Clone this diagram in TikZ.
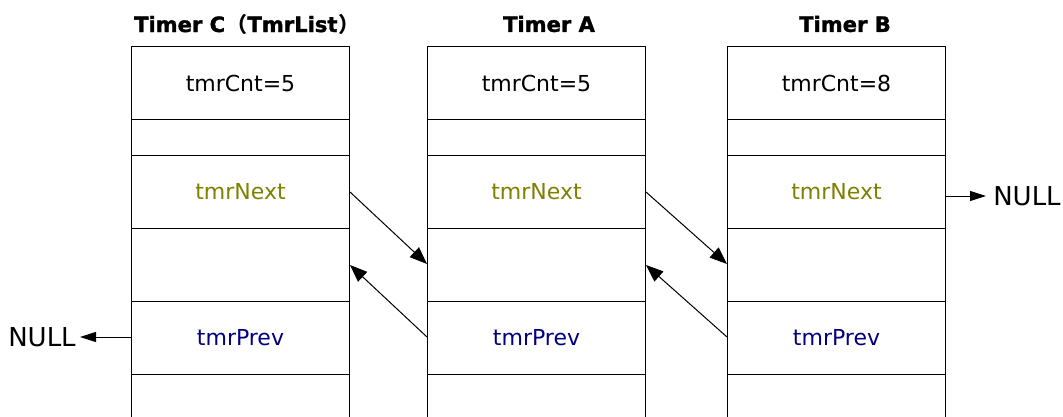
\documentclass[tikz,border=0pt]{standalone}
\usepackage{fontspec}
\setmainfont{DejaVu Sans}
\newfontfamily\cjk{Noto Sans CJK SC}
\newfontfamily\heavy[FakeBold=1.5]{DejaVu Sans Bold}
\usetikzlibrary{arrows.meta}
\definecolor{nextc}{RGB}{128,128,0}
\definecolor{prevc}{RGB}{0,0,128}
\tikzset{
  cell/.style={draw=black, line width=0.75pt, minimum width=218*0.75pt, inner sep=0pt, anchor=north west, font=\fontsize{16.5}{18}\selectfont},
  title/.style={font=\heavy\fontsize{15.8}{18}\selectfont},
  link/.style={line width=0.75pt, -{Triangle[length=13pt,width=10pt]}},
  nulllink/.style={line width=0.75pt, -{Triangle[length=12pt,width=7.5pt]}},
  nulltxt/.style={font=\fontsize{19.5}{22}\selectfont, inner sep=0pt},
}
\begin{document}
\begin{tikzpicture}[x=0.75pt,y=-0.75pt]
\useasboundingbox (0,0) rectangle (1063,417);
% columns
\foreach \name/\x/\cnt in {C/131/5, A/427/5, B/727/8}{
  \node[cell, minimum height=73*0.75pt] (\name cnt) at (\x,46) {tmrCnt=\cnt};
  \node[cell, minimum height=36*0.75pt] (\name r2) at (\x,119) {};
  \node[cell, minimum height=73*0.75pt, text=nextc] (\name next) at (\x,155) {tmrNext};
  \node[cell, minimum height=73*0.75pt] (\name r4) at (\x,228) {};
  \node[cell, minimum height=73*0.75pt, text=prevc] (\name prev) at (\x,301) {tmrPrev};
}
\foreach \x in {131, 427, 727}{
  \draw[line width=0.75pt] (\x,374) -- (\x,420);
  \draw[line width=0.75pt] (\x+218,374) -- (\x+218,420);
}
% titles
\node[title] (tC) at (247,24) {Timer C\kern1pt{\cjk\bfseries （}TmrList\kern1pt{\cjk\bfseries ）}};
\node[title] (tA) at (549,24) {Timer A};
\node[title] (tB) at (845,24) {Timer B};
% links
\draw[link] ([yshift=-37*0.75pt]Cnext.north east) -- ([yshift=-36*0.75pt]Cr4.north west -| Ar4.west);
\draw[link] ([yshift=-36*0.75pt]Aprev.north west) -- ([yshift=-37*0.75pt]Cr4.north east);
\draw[link] ([yshift=-37*0.75pt]Anext.north east) -- ([yshift=-36*0.75pt]Br4.north west);
\draw[link] ([yshift=-36*0.75pt]Bprev.north west) -- ([yshift=-37*0.75pt]Ar4.north east);
% NULLs
\node[nulltxt, anchor=west] (nullR) at (993,196) {NULL};
\node[nulltxt, anchor=east] (nullL) at (76,337) {NULL};
\draw[nulllink] (Bnext.east |- nullR.west) -- ([xshift=-7*0.75pt]nullR.west);
\draw[nulllink] (Cprev.west |- nullL.east) -- ([xshift=4*0.75pt]nullL.east);
\end{tikzpicture}
\end{document}
